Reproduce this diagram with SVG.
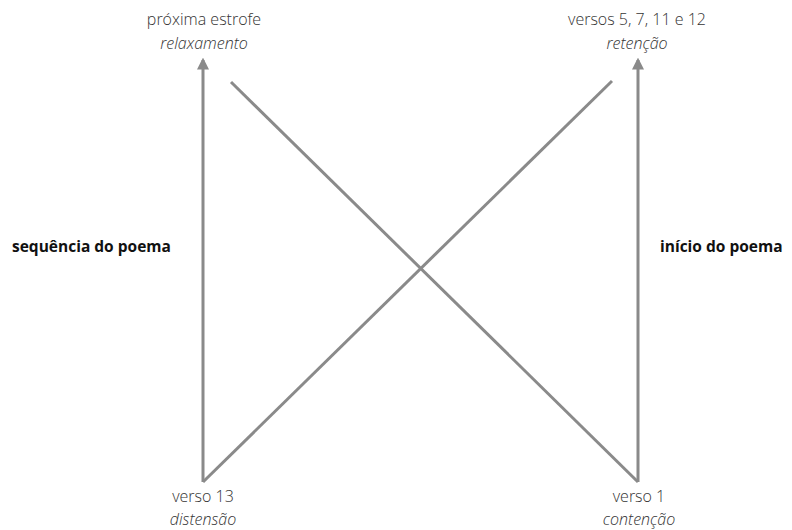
<svg xmlns="http://www.w3.org/2000/svg" width="792" height="530" viewBox="0 0 792 530">
<style>
.lbl{font-family:"Open Sans","Liberation Sans",sans-serif;font-size:16px;font-weight:300;fill:#333;text-anchor:middle}
.it{font-style:italic}
.side{font-family:"Open Sans","Liberation Sans",sans-serif;font-size:15.5px;font-weight:700;fill:#111}
.ln{stroke:#8a8a8a;stroke-width:3;fill:none}
</style>
<defs>
<marker id="ah" viewBox="0 0 10 10" refX="8" refY="5" markerWidth="4" markerHeight="4" orient="auto" markerUnits="strokeWidth">
<path d="M0,0 L10,5 L0,10 z" fill="#8a8a8a"/>
</marker>
</defs>
<rect width="792" height="530" fill="#fff"/>
<g id="connectors">
<line class="ln" x1="203" y1="482" x2="203" y2="60" marker-end="url(#ah)"/>
<line class="ln" x1="638" y1="482" x2="638" y2="60" marker-end="url(#ah)"/>
<line class="ln" x1="203" y1="482" x2="612" y2="81"/>
<line class="ln" x1="231" y1="82" x2="638" y2="482"/>
</g>
<g id="top-left">
<text class="lbl" x="204" y="25">próxima estrofe</text>
<text class="lbl it" x="204" y="49">relaxamento</text>
</g>
<g id="top-right">
<text class="lbl" x="637" y="25">versos 5, 7, 11 e 12</text>
<text class="lbl it" x="637" y="49">retenção</text>
</g>
<g id="bottom-left">
<text class="lbl" x="203" y="502">verso 13</text>
<text class="lbl it" x="203" y="525">distensão</text>
</g>
<g id="bottom-right">
<text class="lbl" x="639" y="502">verso 1</text>
<text class="lbl it" x="639" y="525">contenção</text>
</g>
<g id="left-side">
<text class="side" x="12" y="252">sequência do poema</text>
</g>
<g id="right-side">
<text class="side" x="660" y="252">início do poema</text>
</g>
</svg>
